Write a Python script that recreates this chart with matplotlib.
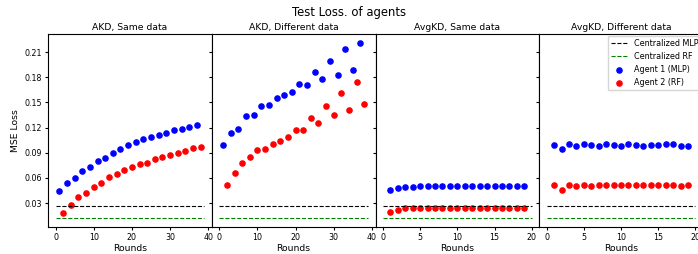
import matplotlib
matplotlib.use("Agg")
import matplotlib.pyplot as plt
import numpy as np

# centralized baselines
central_mlp = 0.026
central_rf = 0.0118

# AKD, same data
akd_same_x1 = [1, 3, 5, 7, 9, 11, 13, 15, 17, 19, 21, 23, 25, 27, 29, 31, 33, 35, 37]
akd_same_y1 = [0.0449, 0.0545, 0.0597, 0.0686, 0.0734, 0.0802, 0.0842, 0.0903, 0.0939, 0.0991,
               0.1023, 0.1059, 0.1083, 0.1116, 0.1140, 0.1168, 0.1188, 0.1212, 0.1228]
akd_same_x2 = [2, 4, 6, 8, 10, 12, 14, 16, 18, 20, 22, 24, 26, 28, 30, 32, 34, 36, 38]
akd_same_y2 = [0.0187, 0.0272, 0.0372, 0.0421, 0.0497, 0.0541, 0.0609, 0.0642, 0.0698, 0.0730,
               0.0770, 0.0782, 0.0822, 0.0850, 0.0871, 0.0899, 0.0923, 0.0951, 0.0963]

# AKD, different data
akd_diff_y1 = [0.0987, 0.1140, 0.1184, 0.1333, 0.1345, 0.1457, 0.1465, 0.1558, 0.1594, 0.1626,
               0.1722, 0.1706, 0.1863, 0.1775, 0.1991, 0.1827, 0.2136, 0.1887, 0.2212]
akd_diff_y2 = [0.0517, 0.0662, 0.0774, 0.0850, 0.0931, 0.0947, 0.1007, 0.1039, 0.1087, 0.1176,
               0.1172, 0.1312, 0.1260, 0.1461, 0.1345, 0.1610, 0.1405, 0.1742, 0.1477]

# AvgKD
avg_x = list(range(1, 20))
avg_same_y1 = [0.0453, 0.0481, 0.0489, 0.0493] + [0.0501] * 15
avg_same_y2 = [0.0192, 0.0216, 0.0236] + [0.0244] * 16
avg_diff_y1 = [0.0987, 0.0939, 0.0999, 0.0979, 0.0999, 0.0995, 0.0979, 0.0999, 0.0995, 0.0979,
               0.0999, 0.0995, 0.0979, 0.0995, 0.0995, 0.0999, 0.1003, 0.0979, 0.0979]
avg_diff_y2 = [0.0517, 0.0457, 0.0517, 0.0501, 0.0513, 0.0509, 0.0513, 0.0517, 0.0517, 0.0513,
               0.0517, 0.0513, 0.0513, 0.0513, 0.0513, 0.0513, 0.0513, 0.0509, 0.0513]

titles = ["AKD, Same data", "AKD, Different data", "AvgKD, Same data", "AvgKD, Different data"]
panels = [
    (akd_same_x1, akd_same_y1, akd_same_x2, akd_same_y2, 40),
    (akd_same_x1, akd_diff_y1, akd_same_x2, akd_diff_y2, 40),
    (avg_x, avg_same_y1, avg_x, avg_same_y2, 21),
    (avg_x, avg_diff_y1, avg_x, avg_diff_y2, 21),
]

fig, axes = plt.subplots(1, 4, sharey=True, figsize=(6.98, 2.54), dpi=100)
fig.subplots_adjust(left=0.069, right=1.007, top=0.866, bottom=0.106, wspace=0)

for ax, (x1, y1, x2, y2, n), t in zip(axes, panels, titles):
    r = np.arange(n)
    ax.plot(r, [central_mlp] * n, "k--", lw=0.8, label="Centralized MLP")
    ax.plot(r, [central_rf] * n, "g--", lw=0.8, label="Centralized RF")
    ax.scatter(x1, y1, c="blue", s=14, label="Agent 1 (MLP)")
    ax.scatter(x2, y2, c="red", s=14, label="Agent 2 (RF)")
    ax.set_title(t, fontsize=6.7, pad=3)
    ax.set_xlabel("Rounds", fontsize=6.7, labelpad=1)
    ax.tick_params(labelsize=5.7, length=2.5, pad=2)

axes[0].set_yticks(np.arange(0.03, 0.22, 0.03))
axes[0].set_ylabel("MSE Loss", fontsize=6.7, labelpad=3)
axes[3].legend(loc="upper right", fontsize=5.8, borderaxespad=0.2)
fig.suptitle("Test Loss. of agents", fontsize=8.4, y=0.975)

fig.savefig("out.png", dpi=100)
